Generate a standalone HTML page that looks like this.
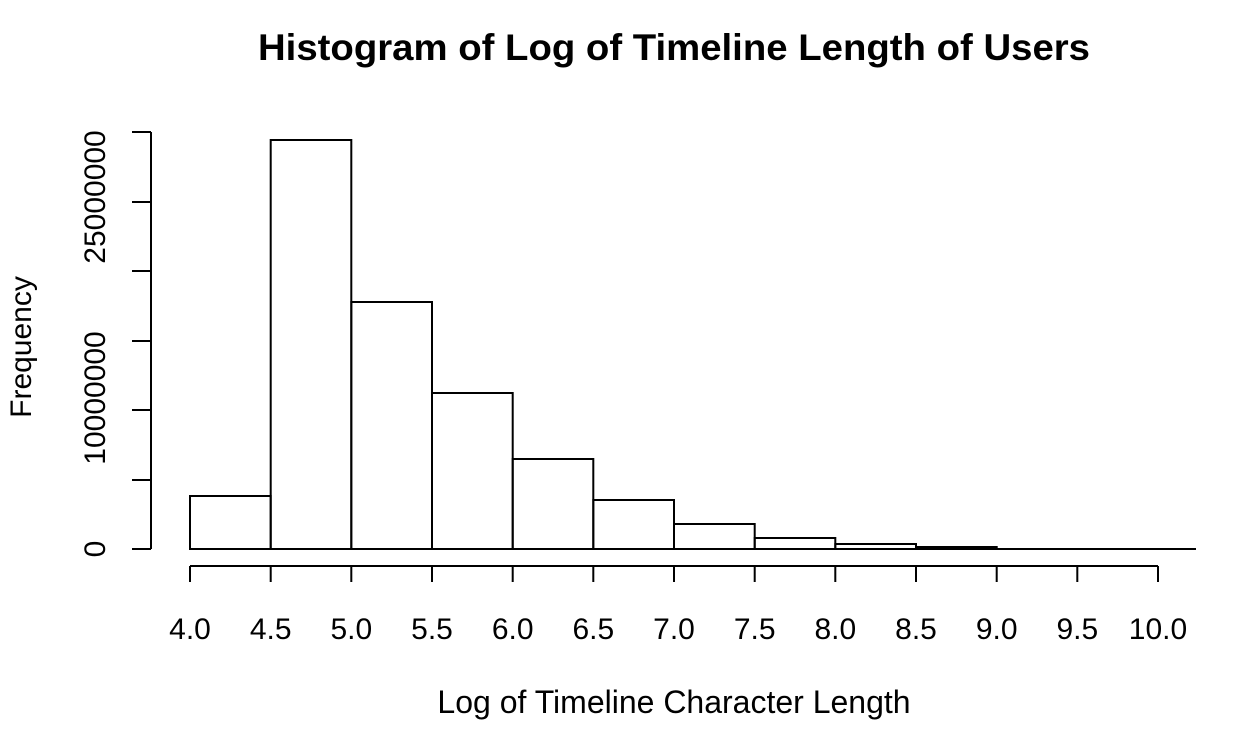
<!DOCTYPE html>
<html><head><style>body{margin:0;background:#fff}svg{display:block}</style></head><body>
<svg width="1238" height="752" xmlns="http://www.w3.org/2000/svg" font-family="Liberation Sans, sans-serif">
<rect width="1238" height="752" fill="#fff"/>
<text x="258" y="60" font-size="37" font-weight="bold" textLength="832" lengthAdjust="spacingAndGlyphs">Histogram of Log of Timeline Length of Users</text>
<g stroke="#000" stroke-width="2" fill="none">
<path d="M151 132V549M132 132H151M132 202H151M132 271H151M132 341H151M132 410H151M132 480H151M132 549H151"/>
<path d="M190 566H1158M190 566v16M270.7 566v16M351.3 566v16M432 566v16M512.7 566v16M593.3 566v16M674 566v16M754.7 566v16M835.3 566v16M916 566v16M996.7 566v16M1077.3 566v16M1158 566v16"/>
<path d="M190 549H1196"/>
<rect x="190" y="496" width="80.7" height="53"/>
<rect x="270.7" y="140" width="80.6" height="409"/>
<rect x="351.3" y="302" width="80.7" height="247"/>
<rect x="432" y="393" width="80.7" height="156"/>
<rect x="512.7" y="459" width="80.6" height="90"/>
<rect x="593.3" y="500" width="80.7" height="49"/>
<rect x="674" y="524" width="80.7" height="25"/>
<rect x="754.7" y="538" width="80.6" height="11"/>
<rect x="835.3" y="544" width="80.7" height="5"/>
<rect x="916" y="547" width="80.7" height="2"/>
</g>
<g font-size="30" text-anchor="middle">
<text x="190" y="639">4.0</text><text x="270.7" y="639">4.5</text><text x="351.3" y="639">5.0</text><text x="432" y="639">5.5</text><text x="512.7" y="639">6.0</text><text x="593.3" y="639">6.5</text><text x="674" y="639">7.0</text><text x="754.7" y="639">7.5</text><text x="835.3" y="639">8.0</text><text x="916" y="639">8.5</text><text x="996.7" y="639">9.0</text><text x="1077.3" y="639">9.5</text><text x="1158" y="639">10.0</text>
<text transform="translate(105 549) rotate(-90)">0</text>
<text transform="translate(105 398) rotate(-90)">10000000</text>
<text transform="translate(105 197) rotate(-90)">25000000</text>
<text transform="translate(31 347) rotate(-90)">Frequency</text>
<text x="674" y="713" font-size="32">Log of Timeline Character Length</text>
</g>
</svg>
</body></html>
